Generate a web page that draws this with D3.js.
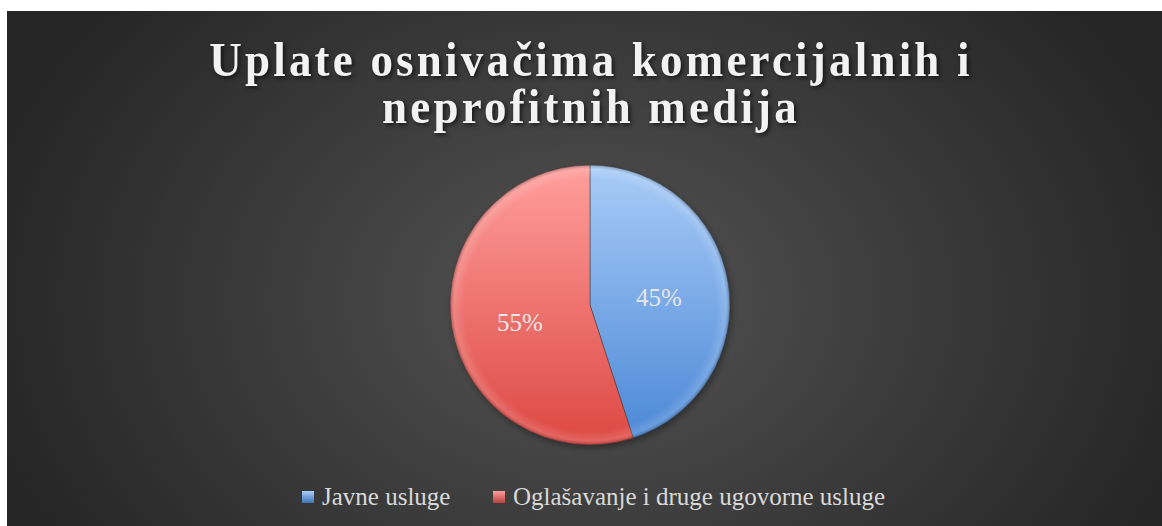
<!DOCTYPE html>
<html><head><meta charset="utf-8">
<script src="https://cdn.jsdelivr.net/npm/d3@7"></script>
<style>html,body{margin:0;padding:0;background:#fff;}svg{display:block;}</style>
</head><body>
<svg id="chart" width="1162" height="526"></svg>
<script>
const titleLines = ["Uplate osnivačima komercijalnih i", "neprofitnih medija"];
const categories = ["Javne usluge", "Oglašavanje i druge ugovorne usluge"];
const values = [45, 55];
const labels = ["45%", "55%"];
const colorsTop = ["#a9ccf7", "#ff9f9c"];
const colorsBottom = ["#4a87d6", "#dd4843"];
const legendColors = ["#3f73b8", "#b8403c"];

const svg = d3.select("#chart");
const defs = svg.append("defs");

// background
const bg = defs.append("radialGradient").attr("id","bg")
  .attr("gradientUnits","userSpaceOnUse").attr("cx",590).attr("cy",300).attr("r",620)
  .attr("gradientTransform","translate(590,300) scale(1,0.75) translate(-590,-300)");
bg.append("stop").attr("offset","0").attr("stop-color","#545454");
bg.append("stop").attr("offset","0.55").attr("stop-color","#3a3a3a");
bg.append("stop").attr("offset","1").attr("stop-color","#262626");
svg.append("rect").attr("x",7).attr("y",11).attr("width",1155).attr("height",515).attr("fill","url(#bg)");

// title
const titleBase = [76, 123];
const title = svg.append("g").attr("font-family","'Liberation Serif', serif").attr("font-weight","bold")
  .attr("font-size",45).attr("fill","#f2f2f2").attr("text-anchor","middle").attr("letter-spacing","3.2px")
  .style("filter","drop-shadow(2px 2px 2px rgba(0,0,0,0.6))");
title.selectAll("text").data(titleLines).join("text")
  .attr("transform",(d,i)=>`translate(591,${titleBase[i]}) scale(1,1.1)`).text(d=>d);

// pie
const cx = 590, cy = 305, R = 140;
const pie = d3.pie().sort(null).value(d=>d);
const arc = d3.arc().innerRadius(0).outerRadius(R);
const arcs = pie(values);

categories.forEach((c,i)=>{
  const g = defs.append("linearGradient").attr("id","sl"+i)
    .attr("gradientUnits","userSpaceOnUse").attr("x1",0).attr("y1",-R).attr("x2",0).attr("y2",R);
  g.append("stop").attr("offset","0").attr("stop-color",colorsTop[i]);
  g.append("stop").attr("offset","1").attr("stop-color",colorsBottom[i]);
});
const bevel = defs.append("radialGradient").attr("id","bevel")
  .attr("gradientUnits","userSpaceOnUse").attr("cx",0).attr("cy",0).attr("r",R);
bevel.append("stop").attr("offset","0.9").attr("stop-color","#fff").attr("stop-opacity",0);
bevel.append("stop").attr("offset","0.97").attr("stop-color","#fff").attr("stop-opacity",0.15);
bevel.append("stop").attr("offset","1").attr("stop-color","#000").attr("stop-opacity",0.25);

const pg = svg.append("g").attr("transform",`translate(${cx},${cy})`);
pg.append("circle").attr("r",R).attr("cx",2).attr("cy",3).attr("fill","#000").attr("opacity",0.35)
  .style("filter","blur(3px)");
pg.selectAll("path.slice").data(arcs).join("path").attr("class","slice")
  .attr("d",arc).attr("fill",(d,i)=>`url(#sl${i})`)
  .attr("stroke","rgba(60,60,60,0.5)").attr("stroke-width",1);
pg.selectAll("path.bev").data(arcs).join("path").attr("class","bev")
  .attr("d",arc).attr("fill","url(#bevel)");

const labelPos = [[69,-8],[-70,17]];
pg.selectAll("text.lbl").data(arcs).join("text").attr("class","lbl")
  .attr("x",(d,i)=>labelPos[i][0]).attr("y",(d,i)=>labelPos[i][1])
  .attr("text-anchor","middle").attr("dominant-baseline","central")
  .attr("font-family","'Liberation Serif', serif").attr("font-size",25)
  .attr("fill","#e6e6e6").text((d,i)=>labels[i]);

// legend
const lg = svg.append("g").attr("font-family","'Liberation Serif', serif").attr("font-size",25).attr("fill","#d9d9d9");
categories.forEach((c,i)=>{
  const g = defs.append("linearGradient").attr("id","lm"+i).attr("x1",0).attr("y1",0).attr("x2",0).attr("y2",1);
  g.append("stop").attr("offset","0").attr("stop-color",colorsTop[i]);
  g.append("stop").attr("offset","1").attr("stop-color",legendColors[i]);
});
const legX = [302, 493];
lg.selectAll("rect").data(categories).join("rect")
  .attr("x",(d,i)=>legX[i]).attr("y",491).attr("width",12).attr("height",12)
  .attr("fill",(d,i)=>`url(#lm${i})`);
lg.selectAll("text").data(categories).join("text")
  .attr("x",(d,i)=>legX[i]+20).attr("y",505).text(d=>d);
</script>
</body></html>
